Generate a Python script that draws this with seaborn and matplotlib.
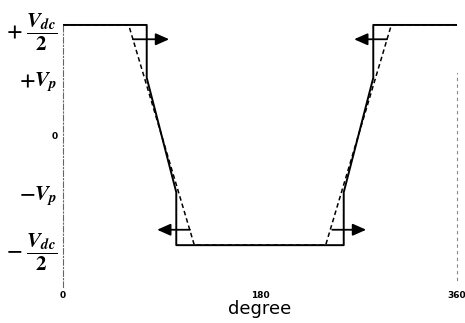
import numpy as np
import pandas as pd
import matplotlib
matplotlib.use("Agg")
import matplotlib.pyplot as plt
import seaborn as sns

# === dados (Vdc/2 = 1) ===
vp = 0.52
solid_deg = [0, 76.5, 76.5, 103.5, 103.5, 256.5, 256.5, 283.5, 283.5, 360]
solid_val = [1, 1, vp, -vp, -1, -1, -vp, vp, 1, 1]
dash_deg = [0, 60, 120, 240, 300, 360]
dash_val = [1, 1, -1, -1, 1, 1]
arrow_start = [64, 116, 296, 246]
arrow_end = [97, 86, 266, 277]
arrow_y = [0.87, -0.86, 0.87, -0.86]
xticks = [0, 180, 360]
yticks = [1, vp, 0, -vp, -1]
ylabels = [r"$\mathbf{+}\,\,\dfrac{\boldsymbol{V}_{\boldsymbol{dc}}}{\mathbf{2}}$",
           r"$\mathbf{+}\boldsymbol{V}_{\boldsymbol{p}}$",
           "0",
           r"$\mathbf{-}\boldsymbol{V}_{\boldsymbol{p}}$",
           r"$\mathbf{-}\,\,\dfrac{\boldsymbol{V}_{\boldsymbol{dc}}}{\mathbf{2}}$"]

sns.set_style("white")
plt.rcParams["font.family"] = ["DejaVu Sans"]
plt.rcParams["mathtext.fontset"] = "stix"
for k in ["text.color", "axes.labelcolor", "xtick.color", "ytick.color"]:
    plt.rcParams[k] = "black"

df_solid = pd.DataFrame({"deg": solid_deg, "v": solid_val})
df_dash = pd.DataFrame({"deg": dash_deg, "v": dash_val})

fig = plt.figure(figsize=(4.65, 3.23), dpi=100)
ax = fig.add_axes([63 / 465, 36 / 323, 394 / 465, 267 / 323])

sns.lineplot(data=df_dash, x="deg", y="v", sort=False, estimator=None,
             color="black", lw=1.1, linestyle=(0, (3, 2)), ax=ax)
sns.lineplot(data=df_solid, x="deg", y="v", sort=False, estimator=None,
             color="black", lw=1.4, ax=ax)

# === setas ===
for x0, x1, y in zip(arrow_start, arrow_end, arrow_y):
    ax.annotate("", xy=(x1, y), xytext=(x0, y),
                arrowprops=dict(arrowstyle="-|>,head_length=0.45,head_width=0.2",
                                color="black", lw=1.3, mutation_scale=18,
                                shrinkA=0, shrinkB=0))

ax.set_xlim(0, 360)
ax.set_ylim(-1.38, 1.045)

# === eixos ===
for s in ["top", "bottom"]:
    ax.spines[s].set_visible(False)
ax.spines["left"].set_linestyle((0, (5, 2, 1, 2)))
ax.spines["left"].set_color("#666666")
ax.spines["left"].set_linewidth(0.8)
ax.spines["left"].set_bounds(-1.38, 1.0)
ax.spines["right"].set_linestyle((0, (2, 4)))
ax.spines["right"].set_color("#888888")
ax.spines["right"].set_linewidth(0.8)
ax.spines["right"].set_bounds(-1.32, 0.56)

ax.set_xticks(xticks)
ax.set_xticklabels([str(t) for t in xticks], fontsize=6.5, fontweight="bold")
ax.tick_params(axis="x", length=0, pad=3)
ax.set_yticks(yticks)
ax.set_yticklabels(ylabels, fontsize=15)
ax.tick_params(axis="y", direction="in", length=2, width=0.8, pad=4)
ax.get_yticklabels()[2].set_fontsize(6.5)
ax.get_yticklabels()[2].set_fontweight("bold")

ax.set_xlabel("degree", fontsize=13, labelpad=0)
ax.set_ylabel("")

fig.savefig("out.png", dpi=100)
plt.close()
